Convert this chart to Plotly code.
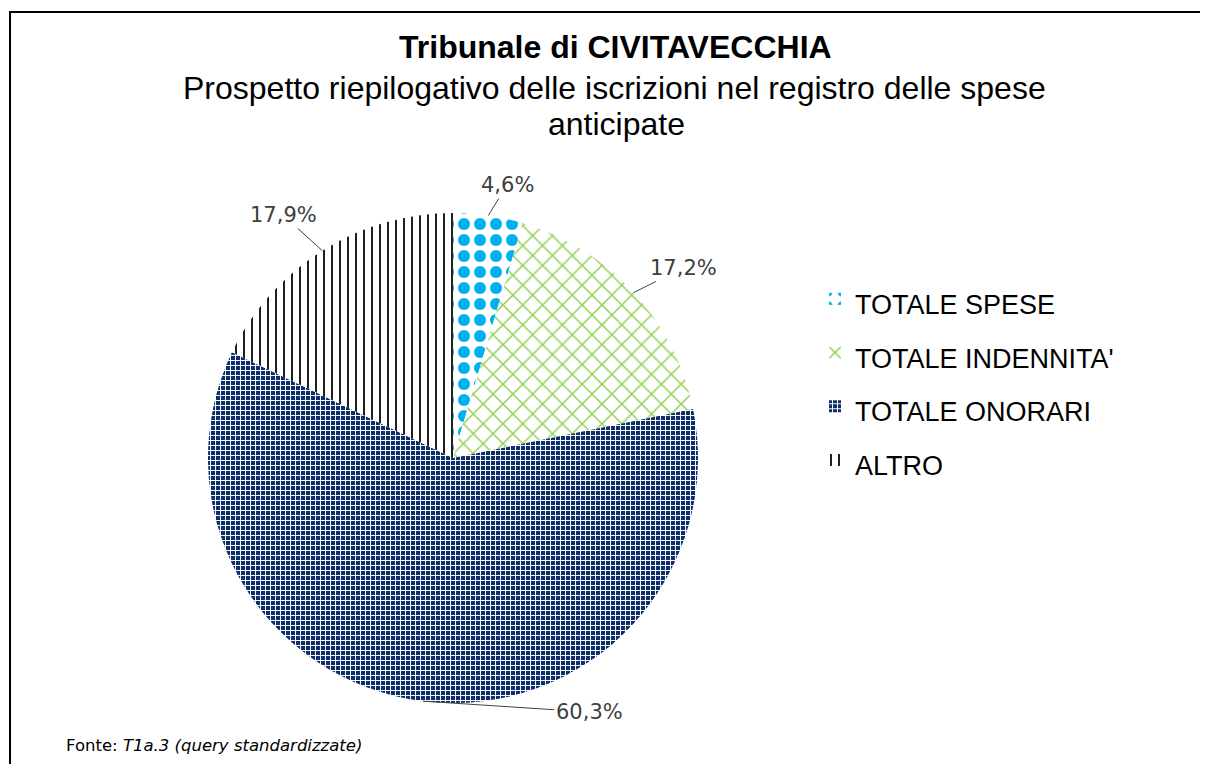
import math
import plotly.graph_objects as go

# data
categories = ["TOTALE SPESE", "TOTALE INDENNITA'", "TOTALE ONORARI", "ALTRO"]
shares = [4.6, 17.2, 60.3, 17.9]

title_main = "Tribunale di CIVITAVECCHIA"
title_sub = ["Prospetto riepilogativo delle iscrizioni nel registro delle spese",
             "anticipate"]
source_note = "Fonte: <i>T1a.3 (query standardizzate)</i>"

# page has an 8px body margin, so the figure is drawn 8px in from the corner
W, H = 1200, 756
OX, OY = 8, 8


def px(x):
    return (x - OX) / W


def py(y):
    return 1 - (y - OY) / H


# pie placement (screen px)
CX, CY, R = 453, 458, 245

fg = ["#00B0F0", "#92D050", "#FFFFFF", "#000000"]
bg = ["#FFFFFF", "#FFFFFF", "#0E2D6B", "#FFFFFF"]
shape = [".", "x", "+", "|"]
psize = [16, 14, 5, 8]
solid = [0.45, 0.2, 0.35, 0.22]

# where the percentage labels sit (screen px, text centre)
label_pos = [(507, 185), (683, 268), (589, 712), (283, 215)]

fig = go.Figure(go.Pie(
    labels=categories,
    values=shares,
    sort=False,
    direction="clockwise",
    rotation=0,
    textinfo="none",
    marker=dict(
        colors=bg,
        line=dict(width=0),
        pattern=dict(shape=shape, fgcolor=fg, bgcolor=bg, size=psize,
                     solidity=solid, fillmode="replace"),
    ),
    domain=dict(x=[px(CX - R), px(CX + R)], y=[py(CY + R), py(CY - R)]),
    hoverinfo="label+percent",
))

# percentage labels with leader lines to the slice edge
annotations = []
total = sum(shares)
cum = 0
for v, (lx, ly) in zip(shares, label_pos):
    a = math.radians((cum + v / 2) / total * 360)
    cum += v
    ex, ey = CX + R * math.sin(a), CY - R * math.cos(a)
    annotations.append(dict(
        text=f"{v / total * 100:.1f}".replace(".", ",") + "%",
        x=px(ex), y=py(ey), xref="paper", yref="paper",
        ax=lx - ex, ay=ly - ey, showarrow=True, arrowhead=0,
        arrowwidth=1, arrowcolor="#404040", standoff=0,
        font=dict(family="DejaVu Sans", size=21, color="#404040"),
    ))

annotations += [
    dict(text="<b>" + title_main + "</b>", x=px(615), y=py(47),
         xanchor="center", yanchor="middle",
         font=dict(family="Liberation Sans", size=32, color="#000000")),
    dict(text=title_sub[0], x=px(614), y=py(88),
         xanchor="center", yanchor="middle",
         font=dict(family="Liberation Sans", size=32, color="#000000")),
    dict(text=title_sub[1], x=px(617), y=py(124),
         xanchor="center", yanchor="middle",
         font=dict(family="Liberation Sans", size=32, color="#000000")),
    dict(text=source_note, x=px(64), y=py(745),
         xanchor="left", yanchor="middle",
         font=dict(family="DejaVu Sans", size=16.5, color="#000000")),
]
for a in annotations[len(shares):]:
    a.update(xref="paper", yref="paper", showarrow=False)

# legend: big legend font sets the row spacing, the label itself is 27px
fig.update_traces(labels=[f'<span style="font-size:27px">{c}</span>' for c in categories])

fig.update_layout(
    width=W, height=H,
    margin=dict(l=0, r=0, t=0, b=0),
    paper_bgcolor="white",
    showlegend=True,
    legend=dict(x=px(815), y=py(267), xanchor="left", yanchor="top",
                font=dict(family="Liberation Sans", size=39, color="#000000")),
    annotations=annotations,
    shapes=[
        dict(type="rect", xref="paper", yref="paper",
             x0=px(10), x1=1.05, y0=-0.05, y1=py(12),
             line=dict(color="#000000", width=2)),
    ],
)

fig.write_html("out.html")
